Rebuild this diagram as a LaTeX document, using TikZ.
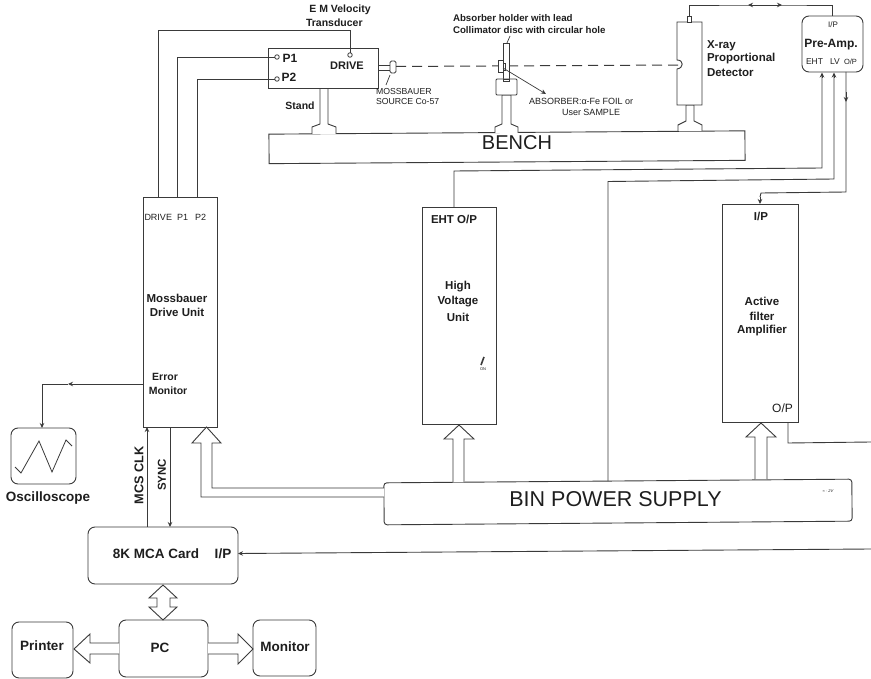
\documentclass[tikz,border=0pt]{standalone}
\usepackage{fontspec}
\setmainfont{Liberation Sans}
\usetikzlibrary{arrows.meta,calc}
\definecolor{ln}{HTML}{3A3A3A}
\definecolor{tx}{HTML}{1E1E1E}
\newcommand\boxn[6][]{\node[box,#1,minimum width=\dimexpr #5pt-#3pt\relax,minimum height=\dimexpr #6pt-#4pt\relax] (#2) at ({(#3+#5)/2},{(#4+#6)/2}) {};}
\newcommand\fs[1]{\fontsize{#1}{#1}\selectfont}
\tikzset{
 box/.style={draw=ln,line width=0.9pt,inner sep=0pt,outer sep=0pt,fill=white},
 rbox/.style={rounded corners=7pt},
 wire/.style={draw=ln,line width=0.9pt},
 tipw/.style={wire,-{Stealth[length=5pt,width=4.5pt]}},
 hollow/.style={draw=ln,line width=0.9pt,fill=white,line join=miter},
 part/.style={draw=ln,line width=0.9pt,fill=white},
 lab/.style={inner sep=0pt,outer sep=0pt,text=tx,font=\bfseries,align=center},
 plain/.style={inner sep=0pt,outer sep=0pt,text=tx,align=center},
 lft/.style={anchor=west,align=left},
}
\begin{document}
\begin{tikzpicture}[x=1pt,y=-1pt]
\useasboundingbox (0,0) rectangle (871,679);
% --- bench parts
\boxn[rotate=0.4]{bench}{269}{132.5}{745}{162}
\draw[part] (312,134) -- (312,127) -- (320,124) -- (320,88) -- (328,88) -- (328,124) -- (336,127) -- (336,134);
\draw[part] (495,133) -- (495,127) -- (502,124) -- (502,95) -- (511,95) -- (511,124) -- (518,127) -- (518,133);
\draw[part] (678,131) -- (678,125) -- (686,121) -- (686,105) -- (694,105) -- (694,121) -- (702,125) -- (702,131);
% --- transducer
\boxn{trans}{268}{48}{378}{88}
\draw[part] (378,65) rectangle (390,70);
\draw[part,rounded corners=1.5pt] (390,61) rectangle (396,73);
\draw[wire,line width=0.7pt] (390,75) -- (386,85);
\node[circle,draw=ln,line width=0.8pt,minimum size=4.5pt,inner sep=0pt,outer sep=0pt,fill=white] (pone) at (277,57) {};
\node[circle,draw=ln,line width=0.8pt,minimum size=4.5pt,inner sep=0pt,outer sep=0pt,fill=white] (ptwo) at (277,79) {};
\node[circle,draw=ln,line width=0.8pt,minimum size=4.5pt,inner sep=0pt,outer sep=0pt,fill=white] (pdrv) at (350,55) {};
% --- beam
\coordinate (beamstart) at (396,66.5);
\coordinate (beamend) at (681,65);
\draw[wire,line width=1pt,dash pattern=on 10pt off 6pt] (beamstart) -- (beamend);
% --- absorber
\draw[part] (503,43) rectangle (509,81);
\draw[wire,line width=0.7pt] (507,43) -- (510,36);
\draw[part,rounded corners=1pt] (496,79) rectangle (517,95);
\draw[part] (503,81) rectangle (509,79);
\draw[part] (498,60) rectangle (503,72);
\draw[part] (503,63) rectangle (505,70);
\coordinate (absfrom) at (503,68);
\coordinate (absto) at (546,94);
\draw[tipw,line width=0.7pt] (absfrom) -- (absto);
% --- detector
\draw[part,fill=white] (677,22) -- (702,22) -- (702,105) -- (677,105) -- (677,69) .. controls (684,68) and (684,60) .. (677,60) -- cycle;
\boxn{detcap}{687}{16}{691}{22}
% --- preamp
\boxn[rbox]{pre}{802}{16}{863}{72}
\coordinate (topa) at (748,5);
\coordinate (topb) at (782,5);
\coordinate (topm) at (765,5);
\draw[wire] (detcap.north) |- (topa) -- (topb) -| (pre.north);
\draw[tipw] (topm) -- (topa);
\draw[tipw] (topm) -- (topb);
% --- drive unit
\boxn{dr}{143}{197}{217}{427}
\draw[wire] (pdrv.north) -- (350,30) -- (158,30) -- (158,197);
\draw[wire] (pone.west) -- (177,57) -- (177,197);
\draw[wire] (ptwo.west) -- (197,79) -- (197,197);
% --- HV, filter, bin
\boxn{hv}{422}{207}{496}{424}
\boxn{af}{722}{204}{798}{422}
\boxn[rounded corners=3pt,rotate=0.45]{bin}{384}{481}{852}{523}
\draw[wire] (454,207) -- (454,171) -- (822,168) -- (822,76);
\draw[tipw] (822,78) -- (822,72.5);
\draw[wire] (608,481) -- (608,181.5) -- (834,179) -- (834,76);
\draw[tipw] (834,78) -- (834,72.5);
\draw[wire] (846,72) -- (846,192) -- (761,193) -- (760,197);
\draw[tipw] (846,92) -- (846,102);
\draw[tipw] (760,197) -- (760,204);
\coordinate (opout) at (871,442);
\draw[wire] (788,422) -- (788,443) -- (opout);
% --- MCA etc
\boxn[rbox]{mca}{88}{527}{238}{584}
\coordinate (mcaright) at (871,549);
\draw[tipw] (mcaright) -- (mca.east |- 0,553.5);
\draw[tipw] (147,527) -- (147,427);
\draw[tipw] (170,427) -- (170,527);
\boxn[rbox]{osc}{11}{428}{76}{484}
\coordinate (errmid) at (68,384);
\draw[tipw] (143,384) -- (errmid);
\draw[tipw] (errmid) -- (42,384) -- (42,428);
\draw[wire,line width=0.8pt] (15,467) -- (21,473) -- (39,441) -- (52,472) -- (66,440) -- (72,446);
\boxn[rbox]{pc}{119}{620}{208}{677}
\boxn[rbox]{pr}{12}{622}{73}{678}
\boxn[rbox]{mon}{253}{620}{316}{676}
% hollow arrows
\draw[hollow] (453,482) -- (453,439) -- (444,439) -- (459,425) -- (474,439) -- (464,439) -- (464,482);
\draw[hollow] (755,479) -- (755,437) -- (746,437) -- (761,423) -- (776,437) -- (767,437) -- (767,479);
\draw[hollow] (384,497) -- (201,497) -- (201,443) -- (192,443) -- (206.5,427) -- (221,443) -- (212,443) -- (212,488) -- (384,488);
\draw[hollow] (163,585) -- (177,598) -- (170,598) -- (170,607) -- (177,607) -- (163,620) -- (149,607) -- (157,607) -- (157,598) -- (149,598) -- cycle;
\draw[hollow] (119,643) -- (90,643) -- (90,634) -- (74,649) -- (90,663) -- (90,654) -- (119,654);
\draw[hollow] (208,643) -- (238,643) -- (238,634) -- (253,649) -- (238,664) -- (238,654) -- (208,654);
% switch
\draw[ln,line width=1.6pt] (481,365) -- (484,357);
\node[plain,font=\fs{4}] (swon) at (483,369.5) {ON};
% --- labels
\node[lab,font=\bfseries\fs{10.5}] (t1) at (340,10) {E M Velocity};
\node[lab,lft,font=\bfseries\fs{10.5}] (t2) at (306,23) {Transducer};
\node[lab,font=\bfseries\fs{12}] (tp1) at (290,58) {P1};
\node[lab,font=\bfseries\fs{12}] (tp2) at (289,77) {P2};
\node[lab,font=\bfseries\fs{11}] (tdr) at (347,66) {DRIVE};
\node[lab,font=\bfseries\fs{10.5}] (tst) at (300,106) {Stand};
\node[plain,lft,font=\fs{8.7}] (tm1) at (376,92) {MOSSBAUER};
\node[plain,lft,font=\fs{8.7}] (tm2) at (376,102) {SOURCE Co-57};
\node[lab,lft,font=\bfseries\fs{9.7}] (ta1) at (453,18) {Absorber holder with lead};
\node[lab,lft,font=\bfseries\fs{9.7}] (ta2) at (453,30) {Collimator disc with circular hole};
\node[plain,lft,font=\fs{9}] (ta3) at (529,101) {ABSORBER:α-Fe FOIL or};
\node[plain,lft,font=\fs{9}] (ta4) at (562,112) {User SAMPLE};
\node[lab,lft,font=\bfseries\fs{11.5}] (tx1) at (707,46) {X-ray};
\node[lab,lft,font=\bfseries\fs{11.5}] (tx2) at (707,59) {Proportional};
\node[lab,lft,font=\bfseries\fs{11.5}] (tx3) at (707,73) {Detector};
\node[plain,font=\fs{8}] (tip) at (833,25) {I/P};
\node[lab,font=\bfseries\fs{12}] (tpa) at (831,45) {Pre-Amp.};
\node[plain,lft,font=\fs{8.5}] (te) at (806,62) {EHT};
\node[plain,lft,font=\fs{8.5}] (tl) at (830,62) {LV};
\node[plain,lft,font=\fs{7.5}] (to) at (844,62) {O/P};
\node[plain,lft,font=\fs{9}] (d1) at (144.5,217) {DRIVE};
\node[plain,lft,font=\fs{9}] (d2) at (177,217) {P1};
\node[plain,lft,font=\fs{9}] (d3) at (195,217) {P2};
\node[lab,font=\bfseries\fs{11.5}] (m1) at (177,298) {Mossbauer};
\node[lab,font=\bfseries\fs{11.5}] (m2) at (177,312) {Drive Unit};
\node[lab,font=\bfseries\fs{10.5}] (e1) at (165,377) {Error};
\node[lab,font=\bfseries\fs{10.5}] (e2) at (168,391) {Monitor};
\node[lab,font=\bfseries\fs{11.5}] (h0) at (454,219) {EHT O/P};
\node[lab,font=\bfseries\fs{11.5}] (h1) at (458,287) {High};
\node[lab,font=\bfseries\fs{11.5}] (h2) at (458,302) {Voltage};
\node[lab,font=\bfseries\fs{11.5}] (h3) at (458,317) {Unit};
\node[lab,font=\bfseries\fs{11.5}] (f0) at (761,216) {I/P};
\node[lab,font=\bfseries\fs{11.5}] (f1) at (762,301) {Active};
\node[lab,font=\bfseries\fs{11.5}] (f2) at (762,316) {filter};
\node[lab,font=\bfseries\fs{11.5}] (f3) at (762,331) {Amplifier};
\node[plain,font=\fs{12}] (f4) at (782.5,408) {O/P};
\node[plain,font=\fs{20}] (tb) at (517,143) {BENCH};
\node[plain,font=\fs{21.5}] (tbin) at (615.5,499) {BIN POWER SUPPLY};
\node[plain,font=\itshape\fs{4}] (tbs) at (828,491) {≈ · 2V};
\node[lab,font=\bfseries\fs{13.5}] (tmc) at (156,554) {8K MCA Card};
\node[lab,font=\bfseries\fs{13.5}] (tmi) at (223,554) {I/P};
\node[lab,font=\bfseries\fs{13.5}] (tpc) at (160,648) {PC};
\node[lab,font=\bfseries\fs{13.5}] (tpr) at (42,646) {Printer};
\node[lab,font=\bfseries\fs{13.5}] (tmo) at (285,647) {Monitor};
\node[lab,font=\bfseries\fs{13.5}] (tos) at (48,498) {Oscilloscope};
\node[lab,font=\bfseries\fs{12.7},rotate=90] (tck) at (139,475.5) {MCS CLK};
\node[lab,font=\bfseries\fs{11.5},rotate=90] (tsy) at (162,475) {SYNC};
\end{tikzpicture}
\end{document}
